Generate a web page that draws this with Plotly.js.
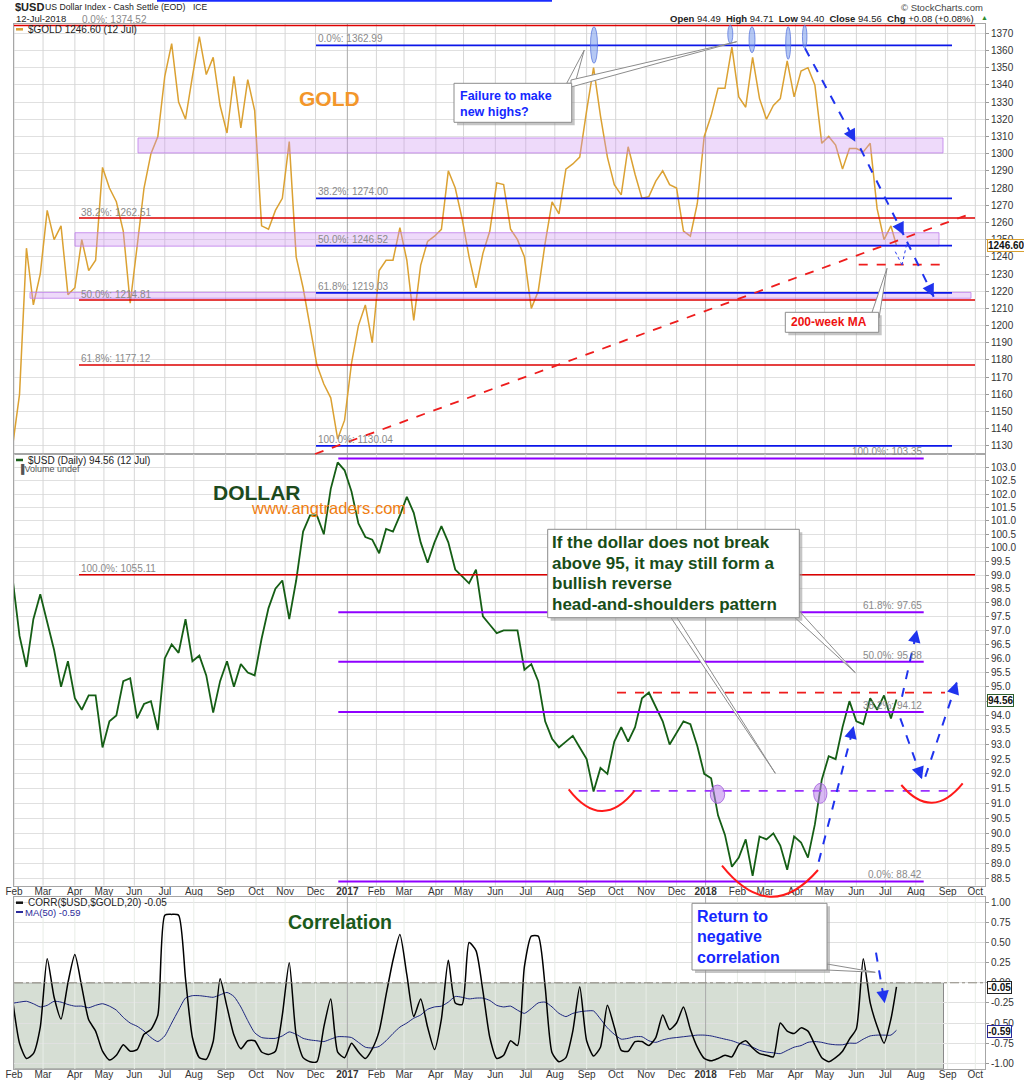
<!DOCTYPE html>
<html><head><meta charset="utf-8">
<script src="https://cdn.plot.ly/plotly-3.0.1.min.js"></script>
<style>html,body{margin:0;padding:0;background:#fff;}#chart{width:1024px;height:1082px;}</style>
</head><body><div id="chart"></div>
<script>
// ---------------- DATA (weekly readings, Fridays from 2016-01-29; last point 2018-07-12) ----------------
const weekStart = '2016-01-29';
const lastDate = '2018-07-12';
const gold = [1118,
1160,1245,1212,1230,1267,1250,1258,1218,1222,1250,
1232,1238,1292,1280,1272,1255,1213,1246,1280,1300,
1310,1345,1364,1330,1320,1345,1368,1346,1356,1328,
1312,1345,1315,1343,1325,1258,1256,1267,1274,1307,
1240,1222,1200,1177,1166,1158,1134,1145,1178,1200,
1212,1190,1232,1238,1238,1257,1238,1203,1235,1249,
1252,1256,1290,1280,1262,1240,1222,1242,1255,1283,
1282,1256,1250,1240,1210,1220,1248,1272,1265,1291,
1294,1298,1325,1350,1322,1298,1282,1276,1304,1288,
1274,1275,1284,1290,1282,1280,1255,1252,1271,1310,
1322,1338,1338,1362,1333,1327,1356,1332,1320,1328,
1332,1354,1333,1348,1350,1340,1306,1310,1305,1291,
1303,1303,1301,1306,1268,1250,1258,1246.6];
const usd = [99.7,
96.8,95.7,97.4,98.3,97.3,96.3,95.0,95.9,94.6,94.2,
94.7,94.7,92.9,93.8,94.0,95.2,95.3,93.9,94.4,94.5,
93.5,96.0,96.5,96.2,97.4,95.9,96.1,95.4,94.1,95.2,
95.9,95.0,95.8,95.5,95.4,96.7,97.8,98.5,98.8,97.4,
98.8,100.6,101.2,101.2,100.5,102.2,103.2,102.9,102.1,100.9,
100.4,100.3,99.8,100.7,100.6,101.2,101.9,101.3,100.2,99.45,
100.2,100.8,100.2,99.2,98.95,98.7,99.2,97.5,97.2,96.9,
97.0,97.0,97.0,95.6,95.8,95.2,93.8,93.2,92.9,93.1,
93.3,92.9,92.5,91.4,92.2,92.0,93.1,93.6,93.1,93.6,
94.6,94.8,94.3,93.8,93.0,93.4,93.8,93.7,92.95,92.0,
91.85,90.6,89.95,88.9,89.2,89.8,88.6,89.9,89.8,90.0,
89.6,88.8,89.9,89.7,89.2,90.3,91.8,92.6,92.5,93.6,
94.5,93.8,93.7,94.6,94.2,94.7,93.9,94.56];
const corr = [0.05,
-0.75,-0.94,-0.88,-0.55,0.30,-0.18,-0.45,0.0,0.35,-0.05,
-0.46,-0.60,-0.85,-0.96,-0.90,-0.77,-0.85,-0.83,-0.64,-0.58,
-0.40,0.84,0.85,0.84,0.05,-0.68,-0.93,-0.95,-0.73,0.05,
-0.30,-0.65,-0.82,-0.72,-0.72,-0.86,-0.89,-0.85,-0.40,0.25,
-0.65,-0.93,-0.98,-0.98,-0.55,-0.20,-0.86,-0.93,-0.75,-0.86,
-0.94,-0.82,-0.60,-0.15,0.28,0.60,0.10,-0.42,-0.20,-0.55,
-0.83,-0.45,0.28,-0.25,-0.27,0.50,0.40,-0.10,-0.68,-0.94,
-0.90,-0.72,-0.78,0.20,0.58,0.58,-0.05,-0.87,-0.98,-0.93,
-0.60,-0.05,-0.72,-0.91,-0.80,-0.28,-0.55,-0.84,-0.85,-0.73,
-0.73,-0.78,-0.68,-0.40,-0.58,-0.50,-0.30,-0.58,-0.80,-0.94,
-0.97,-0.94,-0.90,-0.92,-0.77,-0.72,-0.81,-0.88,-0.90,-0.92,
-0.50,-0.60,-0.63,-0.56,-0.60,-0.77,-0.93,-0.98,-0.93,-0.85,
-0.70,-0.57,0.30,-0.25,-0.54,-0.75,-0.45,-0.05];
const corrMA = [-0.26,
-0.24,-0.23,-0.26,-0.30,-0.28,-0.23,-0.24,-0.27,-0.29,-0.29,
-0.31,-0.28,-0.26,-0.29,-0.34,-0.43,-0.50,-0.54,-0.60,-0.68,
-0.73,-0.66,-0.50,-0.34,-0.19,-0.16,-0.16,-0.17,-0.18,-0.15,
-0.12,-0.17,-0.30,-0.47,-0.62,-0.68,-0.69,-0.69,-0.66,-0.61,
-0.64,-0.69,-0.71,-0.72,-0.73,-0.70,-0.67,-0.67,-0.68,-0.74,
-0.80,-0.81,-0.79,-0.72,-0.63,-0.55,-0.50,-0.44,-0.40,-0.33,
-0.30,-0.29,-0.24,-0.17,-0.18,-0.20,-0.19,-0.19,-0.22,-0.28,
-0.30,-0.29,-0.34,-0.38,-0.32,-0.25,-0.24,-0.30,-0.38,-0.42,
-0.38,-0.36,-0.35,-0.35,-0.45,-0.56,-0.64,-0.70,-0.69,-0.67,
-0.67,-0.72,-0.74,-0.71,-0.69,-0.68,-0.67,-0.66,-0.65,-0.65,
-0.66,-0.68,-0.70,-0.72,-0.75,-0.77,-0.80,-0.84,-0.86,-0.87,
-0.88,-0.84,-0.80,-0.78,-0.74,-0.73,-0.74,-0.76,-0.77,-0.77,
-0.75,-0.75,-0.70,-0.66,-0.65,-0.65,-0.65,-0.59];

const monthTicks = ['2016-02-01','2016-03-01','2016-04-01','2016-05-02','2016-06-01','2016-07-01','2016-08-01','2016-09-01','2016-10-03','2016-11-01','2016-12-01','2017-01-03','2017-02-01','2017-03-01','2017-04-03','2017-05-01','2017-06-01','2017-07-03','2017-08-01','2017-09-01','2017-10-02','2017-11-01','2017-12-01','2018-01-01','2018-02-01','2018-03-01','2018-04-02','2018-05-01','2018-06-01','2018-07-02','2018-08-01','2018-09-03','2018-10-01'];
const monthLabels = ['Feb','Mar','Apr','May','Jun','Jul','Aug','Sep','Oct','Nov','Dec','<b>2017</b>','Feb','Mar','Apr','May','Jun','Jul','Aug','Sep','Oct','Nov','Dec','<b>2018</b>','Feb','Mar','Apr','May','Jun','Jul','Aug','Sep','Oct'];
const yearLines = ['2017-01-03','2018-01-01'];
const goldTicks = [1130,1140,1150,1160,1170,1180,1190,1200,1210,1220,1230,1240,1250,1260,1270,1280,1290,1300,1310,1320,1330,1340,1350,1360,1370];
const usdTicks = [88.5,89,89.5,90,90.5,91,91.5,92,92.5,93,93.5,94,94.5,95,95.5,96,96.5,97,97.5,98,98.5,99,99.5,100,100.5,101,101.5,102,102.5,103];
const usdHiddenTick = 94.5; // covered by the last-price tag in the reference
const corrTicks = [-1,-0.75,-0.5,-0.25,0,0.25,0.5,0.75,1];
const corrTickText = ['-1.00','-0.75','-0.50','-0.25','0.00','0.25','0.50','0.75','1.00'];

// Fibonacci levels drawn on the chart
const goldFibHigh = [1374.52,1262.51,1214.81,1177.12];
const goldFibHighLbl = ['0.0%: 1374.52','38.2%: 1262.51','50.0%: 1214.81','61.8%: 1177.12'];
const goldFib100 = 1055.11;
const goldFibLow = [1362.99,1274.00,1246.52,1219.03,1130.04];
const goldFibLowLbl = ['0.0%: 1362.99','38.2%: 1274.00','50.0%: 1246.52','61.8%: 1219.03','100.0%: 1130.04'];
const usdFib = [103.35,97.65,95.88,94.12,88.42];
const usdFibLbl = ['100.0%: 103.35','61.8%: 97.65','50.0%: 95.88','38.2%: 94.12','0.0%: 88.42'];
const goldBands = [[1300.4,1309.1],[1246.2,1254.0],[1215.9,1219.3]];
const usdNeckline = 91.42, usdResist = 94.8, gold200wMA = 1235.4;

// ---------------- helpers ----------------
function weeklyDates(start, n, last){
  const t0 = Date.parse(start+'T00:00:00Z'); const out=[];
  for(let i=0;i<n;i++) out.push(new Date(t0+i*7*864e5).toISOString().slice(0,10));
  out[n-1]=last; return out;
}
const dates = weeklyDates(weekStart, gold.length, lastDate);

const FONT = 'Liberation Sans, Arial, Helvetica, sans-serif';
const PL=14, PR=985, PT=24, PB=1069;
const X = p => (p-PL)/(PR-PL);
const Y = p => (PB-p)/(PB-PT);
const GDOM=[0.5885,1], UDOM=[0.1754,0.5885], CDOM=[0,0.1646];
const GR=[1125.3,1375.4], UR=[88.28,103.52], CR=[-1.071,1.066];
const gP = v => GDOM[0]+(v-GR[0])/(GR[1]-GR[0])*(GDOM[1]-GDOM[0]);
const uP = v => UDOM[0]+(Math.log10(v)-Math.log10(UR[0]))/(Math.log10(UR[1])-Math.log10(UR[0]))*(UDOM[1]-UDOM[0]);
const cP = v => CDOM[0]+(v-CR[0])/(CR[1]-CR[0])*(CDOM[1]-CDOM[0]);
const dpx = 1/(PB-PT);

const shapes=[], annotations=[];
function pline(x0,y0,x1,y1,color,width,dash){
  shapes.push({type:'line',xref:'paper',yref:'paper',x0:X(x0),y0:Y(y0),x1:X(x1),y1:Y(y1),line:{color:color,width:width,dash:dash||'solid'}});
}
function hline(px0,px1,yPaper,color,width,dash){
  shapes.push({type:'line',xref:'paper',yref:'paper',x0:X(px0),x1:X(px1),y0:yPaper,y1:yPaper,line:{color:color,width:width,dash:dash||'solid'}});
}
function prect(x0,y0,x1,y1,fill,lc,lw){
  shapes.push({type:'rect',xref:'paper',yref:'paper',x0:X(x0),y0:Y(y0),x1:X(x1),y1:Y(y1),fillcolor:fill,line:{color:lc||fill,width:lw===undefined?1:lw}});
}
function ppath(pts,fill,lc,lw){
  let d='M '+X(pts[0][0])+' '+Y(pts[0][1]);
  for(let i=1;i<pts.length;i++) d+=' L '+X(pts[i][0])+' '+Y(pts[i][1]);
  d+=' Z';
  shapes.push({type:'path',xref:'paper',yref:'paper',path:d,fillcolor:fill,line:{color:lc,width:lw}});
}
function arc(x0,y0,xb,yb,x1,y1,color){
  const cy=(4*yb-y0-y1)/2, cx=(x0+x1)/2;
  shapes.push({type:'path',xref:'paper',yref:'paper',path:'M '+X(x0)+' '+Y(y0)+' Q '+X(cx)+' '+Y(cy)+' '+X(x1)+' '+Y(y1),line:{color:color,width:2}});
}
function ell(cx,cy,w,h,fill,lc){
  shapes.push({type:'circle',xref:'paper',yref:'paper',x0:X(cx-w/2),x1:X(cx+w/2),y0:Y(cy+h/2),y1:Y(cy-h/2),fillcolor:fill,line:{color:lc,width:1}});
}
function txt(x,y,t,o){
  o=o||{};
  annotations.push({xref:'paper',yref:'paper',x:X(x),y:(o.yp!==undefined?o.yp:Y(y)),text:t,showarrow:false,
    xanchor:o.anchor||'left',yanchor:'middle',font:{family:o.family||FONT,size:o.size||10,color:o.color||'#222'}});
}
function dashArrow(x0,y0,x1,y1,color,w){
  pline(x0,y0,x1,y1,color,w||2,'dash');
  const dx=x1-x0, dy=y1-y0, L=Math.hypot(dx,dy);
  annotations.push({xref:'paper',yref:'paper',x:X(x1),y:Y(y1),ax:-dx/L*12,ay:-dy/L*12,showarrow:true,
    arrowhead:2,arrowsize:1.25,arrowwidth:2,arrowcolor:color,text:''});
}
function tag(y,t,border){
  annotations.push({xref:'paper',yref:'paper',x:X(987),y:Y(y),xanchor:'left',yanchor:'middle',text:'<b>'+t+'</b>',
    showarrow:false,bgcolor:'#fff',bordercolor:border,borderwidth:1,borderpad:0,font:{family:FONT,size:10,color:'#111'}});
}
function callout(x0,y0,x1,y1){
  prect(x0+3,y0+3,x1+3,y1+3,'rgba(150,150,150,0.55)','rgba(0,0,0,0)',0);
  prect(x0,y0,x1,y1,'#ffffff','#8c8c8c',1);
}

// ---------------- background: correlation fill ----------------
shapes.push({type:'rect',xref:'x3',yref:'paper',x0:'2016-02-01',x1:'2018-08-29',y0:cP(0),y1:CDOM[0],
  fillcolor:'rgb(214,222,212)',line:{color:'#8a8a8a',width:1},layer:'below'});

// ---------------- GOLD panel decorations ----------------
const RED='#dd0000', BLUE='#0b16e8', PURP='#8f00ff';
goldBands.forEach((b,i)=>{
  const xs=[[138,943],[75,939],[30,971]][i];
  shapes.push({type:'rect',xref:'paper',yref:'y',x0:X(xs[0]),x1:X(xs[1]),y0:b[0],y1:b[1],fillcolor:'rgba(205,150,240,0.35)',line:{color:'rgba(190,125,235,0.8)',width:1}});
});
goldFibHigh.forEach((v,i)=>{
  hline(i===0?14:79,975,gP(v),RED,1.5);
  txt(i===0?80:79,0,goldFibHighLbl[i],{yp:gP(v)+6*dpx,color:'#8a8a8a',size:10});
});
hline(79,975,gP(goldFib100),RED,1.5);
txt(79,0,'100.0%: 1055.11',{yp:gP(goldFib100)+6*dpx,color:'#8a8a8a',size:10});
goldFibLow.forEach((v,i)=>{
  hline(316,952,gP(v),BLUE,1.6);
  txt(316,0,goldFibLowLbl[i],{yp:gP(v)+6.5*dpx,color:'#8a8a8a',size:10});
});
pline(315,454,972,213.3,'#ee1c1c',1.8,'dash');
hline(858.7,948.7,gP(gold200wMA),'#ee1c1c',1.8,'dash');
pline(895.3,251.7,902,265,'#2a3cf0',1,'dot'); pline(902,265,907,243,'#2a3cf0',1,'dot');
dashArrow(805,48.3,855.3,141.7,'#1f33ee');
dashArrow(860.3,148.3,903.7,235,'#1f33ee');
dashArrow(907,241.7,933.7,296.7,'#1f33ee');
[[594,45,7,36.6],[730.3,34.2,5,18.3],[752,39.7,6,26],[788.2,43,5,32.6],[804.7,36.7,4.5,23.3]].forEach(e=>ell(e[0],e[1],e[2],e[3],'rgba(120,155,235,0.55)','rgba(80,110,220,0.7)'));
ppath([[566.7,83.3],[584.3,50],[575,83.3]],'#ffffff','#8c8c8c',1);
ppath([[571,80],[736.7,41.7],[571,87]],'#ffffff','#8c8c8c',1);
callout(454,83.3,571.7,122.3);
txt(458,96,'<b>Failure to make</b>',{size:12.5,color:'#1428ff'});
txt(458,112,'<b>new highs?</b>',{size:12.5,color:'#1428ff'});
ppath([[872,312.3],[887,268.3],[879,318]],'#ffffff','#8c8c8c',1);
callout(785.3,312.3,878.7,332.3);
txt(789,322.5,'<b>200-week MA</b>',{size:12,color:'#ee1111'});
txt(296.7,98.5,'<b>GOLD</b>',{size:21,color:'#f3962a'});

// ---------------- DOLLAR panel decorations ----------------
usdFib.forEach((v,i)=>{
  hline(338.3,923.7,uP(v),PURP,2);
  txt(923.7,0,usdFibLbl[i],{yp:uP(v)+6.5*dpx,color:'#8a8a8a',size:10,anchor:'right'});
});
hline(617,945,uP(usdResist),'#ee1c1c',1.8,'dash');
hline(578.7,955.3,uP(usdNeckline),'#9a30ff',1.8,'dash');
ell(717.5,794.2,14.4,18.3,'rgba(185,125,235,0.55)','rgba(160,90,220,0.8)');
ell(820.3,793.3,13.3,20,'rgba(185,125,235,0.55)','rgba(160,90,220,0.8)');
arc(568.7,789.3,601.3,811,634.7,790.7,'#ff1a1a');
arc(722,865.7,770.3,896.7,818,870,'#ff1a1a');
arc(901.3,785,933.7,802.7,962.7,783.3,'#ff1a1a');
dashArrow(818.7,861.7,853.7,726,'#1f33ee');
dashArrow(900.3,718.3,922,779.3,'#1f33ee');
dashArrow(925.3,776.7,957,681.7,'#1f33ee');
dashArrow(902,696.7,917,630,'#1f33ee');
ppath([[671,617.7],[775.3,773.3],[677,617.7]],'#ffffff','#8c8c8c',1);
ppath([[795,617.7],[855.3,672.7],[800,612]],'#ffffff','#8c8c8c',1);
callout(547.7,529.3,799.3,617.7);
const hsLines=['If the dollar does not break','above 95, it may still form a','bullish reverse','head-and-shoulders pattern'];
[542.7,563.3,583.3,604].forEach((y,i)=>txt(550,y,'<b>'+hsLines[i]+'</b>',{size:17,color:'#184d18'}));
txt(210.7,492,'<b>DOLLAR</b>',{size:21,color:'#1d4a1d'});
txt(249,508,'www.angtraders.com',{size:16.5,color:'#ef7d10'});

// ---------------- CORRELATION panel decorations ----------------
shapes.push({type:'line',xref:'paper',yref:'paper',x0:0,x1:1,y0:cP(0),y1:cP(0),line:{color:'#8f8a80',width:1,dash:'dashdot'}});
ppath([[827,964],[875.3,972.3],[827,970]],'#ffffff','#8c8c8c',1);
callout(692,903.3,827,970);
[['Return to',916.7],['negative',936.7],['correlation',957.3]].forEach(a=>txt(695,a[1],'<b>'+a[0]+'</b>',{size:16,color:'#1428ff'}));
dashArrow(876,952.7,884.7,1003.3,'#1f33ee');
txt(286,921.5,'<b>Correlation</b>',{size:19.5,color:'#1b5a1b'});

// ---------------- header / legends / tags ----------------
txt(13,7,'<b>$USD</b>',{size:11});
txt(43,7.5,'US Dollar Index - Cash Settle (EOD)',{size:8.7});
txt(191,7.5,'ICE',{size:8.5});
txt(14,18,'12-Jul-2018',{size:9.5});
txt(985,7,'\u00A9 StockCharts.com',{size:9.5,color:'#444',anchor:'right'});
txt(976,18,'<b>Open</b> 94.49\u00A0\u00A0<b>High</b> 94.71\u00A0\u00A0<b>Low</b> 94.40\u00A0\u00A0<b>Close</b> 94.56\u00A0\u00A0<b>Chg</b> +0.08 (+0.08%)',{size:9.5,anchor:'right'});
txt(979,17.5,'\u25B2',{size:7,color:'#2e8b2e'});
pline(157,0.8,552,0.8,'#1a2cff',2);
pline(16,29.3,23,29.3,'#dba132',2.5);
txt(26,29.3,'$GOLD 1246.60 (12 Jul)',{size:10});
pline(16,460,23,460,'#1a5e1a',2.5);
txt(26,460,'$USD (Daily) 94.56 (12 Jul)',{size:10});
txt(16,468.5,'\u2590Volume undef',{size:9,color:'#555'});
pline(16,902.7,23,902.7,'#111',2.5);
txt(26,902.7,'CORR($USD,$GOLD,20) -0.05',{size:10});
pline(16,912,23,912,'#2a2a9a',2);
txt(23,912,'MA(50) -0.59',{size:9.5,color:'#2a2a9a'});
tag(246,'1246.60','#d8a030');
tag(700.5,'94.56','#2d5e2d');
tag(987,'-0.05','#222');
tag(1031,'-0.59','#2a2a9a');

// ---------------- traces ----------------
// vertical month gridlines drawn as line traces on each panel's own date scale
function gridTrace(xa,ya,lo,hi,ticks,color){
  const x=[],y=[];
  ticks.forEach(d=>{x.push(d,d,null);y.push(lo,hi,null);});
  return {x:x,y:y,xaxis:xa,yaxis:ya,type:'scatter',mode:'lines',line:{color:color,width:1},hoverinfo:'skip',connectgaps:false};
}
const monthOnly = monthTicks.filter(d=>yearLines.indexOf(d)<0);
const traces = [
  gridTrace('x','y',GR[0],GR[1],monthOnly,'#d6d6d6'),
  gridTrace('x2','y2',UR[0],UR[1],monthOnly,'#d6d6d6'),
  gridTrace('x3','y3',CR[0],CR[1],monthOnly,'#e8ede7'),
  gridTrace('x','y',GR[0],GR[1],yearLines,'#ababab'),
  gridTrace('x2','y2',UR[0],UR[1],yearLines,'#ababab'),
  gridTrace('x3','y3',CR[0],CR[1],yearLines,'#ababab'),
  {x:dates,y:gold,xaxis:'x',yaxis:'y',type:'scatter',mode:'lines',line:{color:'#dba132',width:1.5},hoverinfo:'skip'},
  {x:dates,y:usd,xaxis:'x2',yaxis:'y2',type:'scatter',mode:'lines',line:{color:'#155e15',width:1.8},hoverinfo:'skip'},
  {x:dates,y:corrMA,xaxis:'x3',yaxis:'y3',type:'scatter',mode:'lines',line:{color:'#1a237e',width:1,shape:'spline',smoothing:0.6},hoverinfo:'skip'},
  {x:dates,y:corr,xaxis:'x3',yaxis:'y3',type:'scatter',mode:'lines',line:{color:'#000',width:1.5,shape:'spline',smoothing:0.6},hoverinfo:'skip'}
];

const tickFont = {family:FONT,size:10,color:'#333'};
function xAx(anchor,labels){
  return {domain:[0,1],anchor:anchor,type:'date',range:['2016-02-01','2018-10-10'],rangebreaks:[{bounds:['sat','mon']}],
    tickmode:'array',tickvals:monthTicks,ticktext:monthLabels,showticklabels:labels,tickfont:tickFont,ticks:'',
    ticklabelstandoff:-4,showgrid:false,showline:true,mirror:true,linecolor:'#a6a6a6',linewidth:1,zeroline:false};
}
function yAx(dom,rng,vals,text,extra){
  return Object.assign({domain:dom,range:rng,side:'right',tickmode:'array',tickvals:vals,ticktext:text,tickfont:tickFont,
    ticks:'outside',ticklen:3,tickcolor:'#999',showgrid:true,gridcolor:'#e0e0e0',showline:true,mirror:true,
    linecolor:'#a6a6a6',linewidth:1,zeroline:false},extra||{});
}
const layout = {
  width:1024,height:1082,margin:{l:14,r:39,t:24,b:13},paper_bgcolor:'#fff',plot_bgcolor:'rgba(0,0,0,0)',showlegend:false,
  font:{family:FONT},
  xaxis:xAx('y',false), xaxis2:xAx('y2',true), xaxis3:xAx('y3',true),
  yaxis:yAx(GDOM,GR,goldTicks,goldTicks.map(String)),
  yaxis2:yAx(UDOM,[Math.log10(UR[0]),Math.log10(UR[1])],usdTicks,usdTicks.map(v=>v===usdHiddenTick?'':v.toFixed(1)),{type:'log'}),
  yaxis3:yAx(CDOM,CR,corrTicks,corrTickText),
  shapes:shapes, annotations:annotations
};
Plotly.newPlot('chart',traces,layout,{displayModeBar:false,staticPlot:true});
</script>
</body></html>
